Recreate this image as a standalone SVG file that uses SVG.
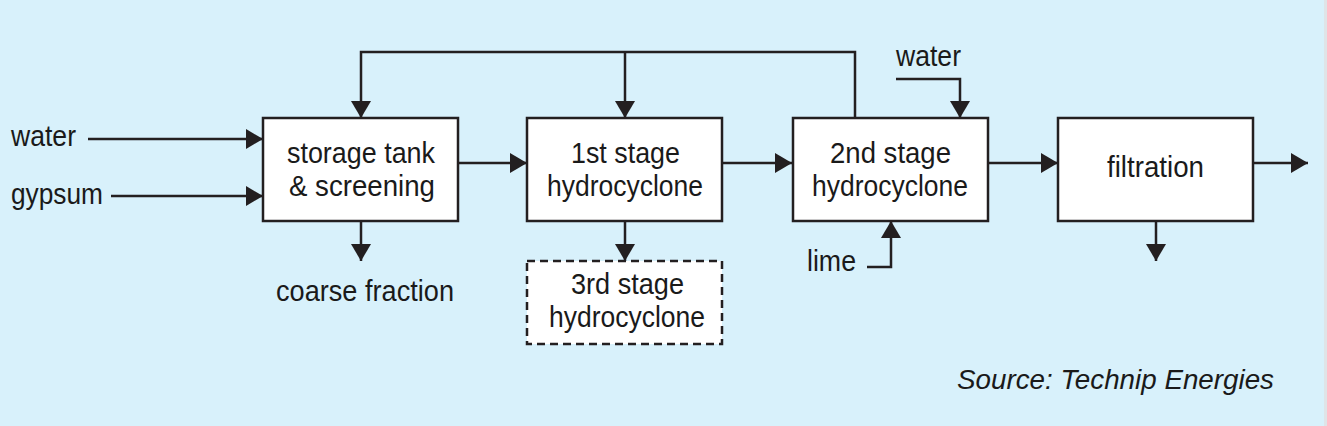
<svg xmlns="http://www.w3.org/2000/svg" width="1327" height="426" viewBox="0 0 1327 426">
  <style>
    .box { fill: #ffffff; stroke: #231f20; stroke-width: 2.5; }
    .dash { stroke-dasharray: 8 5; }
    .lbl { font-family: "Liberation Sans", Arial, sans-serif; font-size: 29px; fill: #1a1a1a; }
    .mid { text-anchor: middle; }
    .src { font-family: "Liberation Sans", Arial, sans-serif; font-size: 28px; font-style: italic; fill: #1a1a1a; }
    .conn path { fill: none; stroke: #231f20; stroke-width: 2.5; }
    .arr { marker-end: url(#ah); }
  </style>
  <defs>
    <marker id="ah" markerUnits="userSpaceOnUse" markerWidth="18" markerHeight="20" refX="17" refY="10" orient="auto" viewBox="0 0 18 20">
      <path d="M0,0 L17,10 L0,20 z" fill="#231f20"/>
    </marker>
  </defs>
  <rect x="0" y="0" width="1327" height="426" fill="#d8f1fb"/>
  <rect x="1324" y="0" width="3" height="426" fill="#dfe4e7"/>

  <g id="connectors" class="conn">
    <path class="arr" d="M88,139 H263"/>
    <path class="arr" d="M111,196 H263"/>
    <path class="arr" d="M855,118 V52 H361 V118"/>
    <path class="arr" d="M625,52 V118"/>
    <path class="arr" d="M458,163 H527"/>
    <path class="arr" d="M722,163 H792"/>
    <path class="arr" d="M988,163 H1058"/>
    <path class="arr" d="M1253,163 H1308"/>
    <path class="arr" d="M361,221 V261"/>
    <path class="arr" d="M625,221 V261"/>
    <path class="arr" d="M1156,221 V261"/>
    <path class="arr" d="M896,79 H960 V118"/>
    <path class="arr" d="M867,267 H891 V221"/>
  </g>

  <g id="storage">
    <rect class="box" x="263" y="118" width="195" height="103"/>
    <text class="lbl" x="287" y="163" textLength="148" lengthAdjust="spacingAndGlyphs">storage tank</text>
    <text class="lbl" x="289" y="196" textLength="146" lengthAdjust="spacingAndGlyphs">&amp; screening</text>
  </g>
  <g id="stage1">
    <rect class="box" x="527" y="118" width="195" height="103"/>
    <text class="lbl" x="571" y="163" textLength="109" lengthAdjust="spacingAndGlyphs">1st stage</text>
    <text class="lbl" x="547" y="196" textLength="156" lengthAdjust="spacingAndGlyphs">hydrocyclone</text>
  </g>
  <g id="stage2">
    <rect class="box" x="793" y="118" width="195" height="103"/>
    <text class="lbl" x="830" y="163" textLength="121" lengthAdjust="spacingAndGlyphs">2nd stage</text>
    <text class="lbl" x="812" y="196" textLength="156" lengthAdjust="spacingAndGlyphs">hydrocyclone</text>
  </g>
  <g id="filtration">
    <rect class="box" x="1058" y="118" width="195" height="103"/>
    <text class="lbl" x="1107" y="177" textLength="97" lengthAdjust="spacingAndGlyphs">filtration</text>
  </g>
  <g id="stage3">
    <rect class="box dash" x="527" y="261" width="195" height="83"/>
    <text class="lbl" x="571" y="294" textLength="113" lengthAdjust="spacingAndGlyphs">3rd stage</text>
    <text class="lbl" x="549" y="327" textLength="156" lengthAdjust="spacingAndGlyphs">hydrocyclone</text>
  </g>

  <g id="labels">
    <text class="lbl" x="11" y="146" textLength="65" lengthAdjust="spacingAndGlyphs">water</text>
    <text class="lbl" x="11" y="204" textLength="92" lengthAdjust="spacingAndGlyphs">gypsum</text>
    <text class="lbl" x="276" y="301" textLength="178" lengthAdjust="spacingAndGlyphs">coarse fraction</text>
    <text class="lbl" x="896" y="66" textLength="65" lengthAdjust="spacingAndGlyphs">water</text>
    <text class="lbl" x="807" y="271" textLength="49" lengthAdjust="spacingAndGlyphs">lime</text>
    <text class="src" x="957" y="389" textLength="317" lengthAdjust="spacingAndGlyphs">Source: Technip Energies</text>
  </g>
</svg>
